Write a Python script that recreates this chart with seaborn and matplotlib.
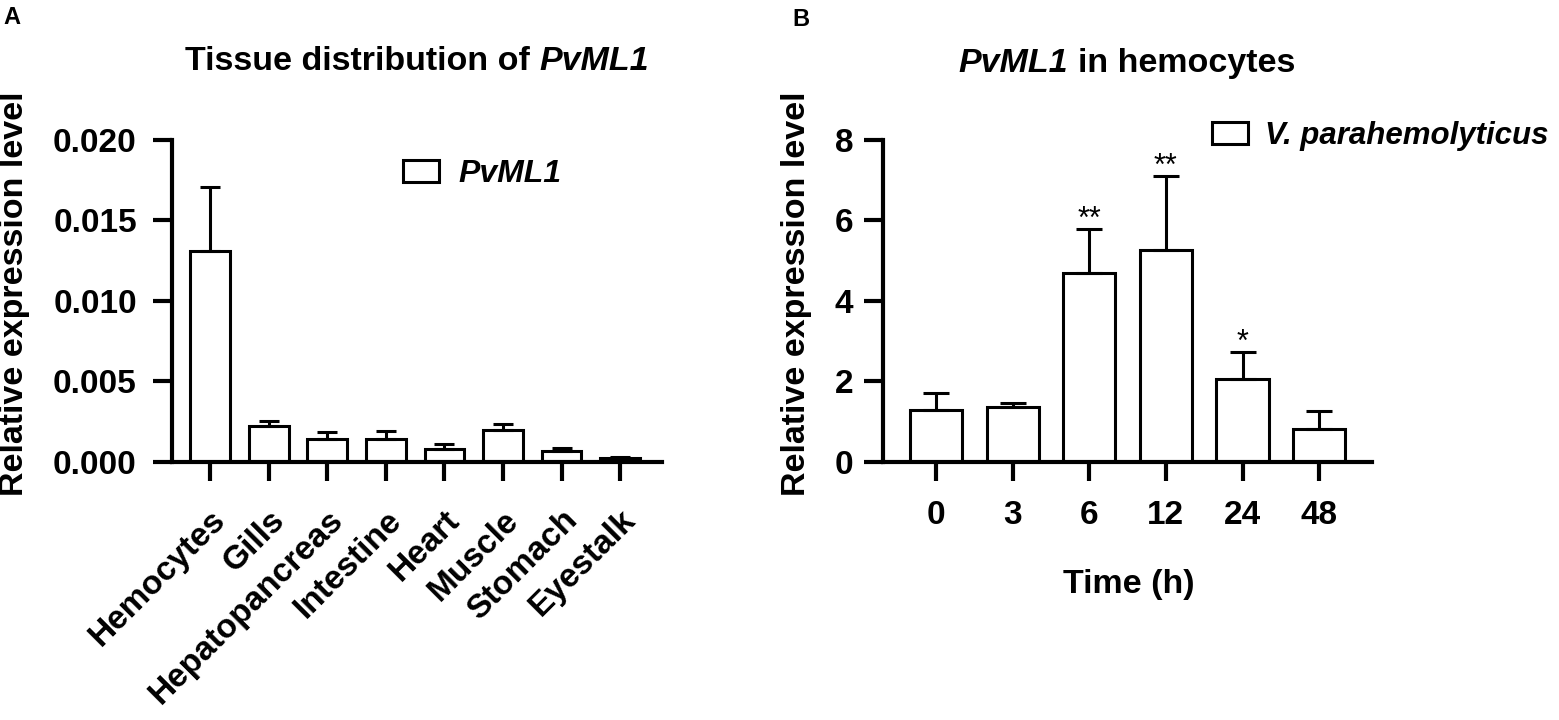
import numpy as np
import pandas as pd
import matplotlib
matplotlib.use("Agg")
import matplotlib.pyplot as plt
import seaborn as sns
from matplotlib.patches import Patch

# ---------------- data ----------------
tissues = ["Hemocytes", "Gills", "Hepatopancreas", "Intestine", "Heart", "Muscle", "Stomach", "Eyestalk"]
tissue_mean = [0.01307, 0.00222, 0.00140, 0.00138, 0.00077, 0.00196, 0.00066, 0.00021]
tissue_sd = [0.00401, 0.00031, 0.00043, 0.00053, 0.00030, 0.00039, 0.00019, 0.00006]
tissue_yticks = [0.000, 0.005, 0.010, 0.015, 0.020]

times = ["0", "3", "6", "12", "24", "48"]
time_mean = [1.27, 1.36, 4.70, 5.26, 2.06, 0.81]
time_sd = [0.43, 0.10, 1.08, 1.84, 0.66, 0.44]
time_sig = ["", "", "**", "**", "*", ""]
time_yticks = [0, 2, 4, 6, 8]

# ---------------- style ----------------
W, H = 1559, 720
sns.set_theme(style="ticks")
plt.rcParams["font.family"] = ["Liberation Sans", "DejaVu Sans"]
plt.rcParams["font.weight"] = "bold"
plt.rcParams["axes.linewidth"] = 3
for k in ("text.color", "axes.labelcolor", "xtick.color", "ytick.color", "axes.edgecolor"):
    plt.rcParams[k] = "black"

fig = plt.figure(figsize=(W / 100, H / 100), dpi=100)
fig.patch.set_facecolor("white")


def fx(x):
    return x / W


def fy(y):
    return 1 - y / H


TOP, BOT = 140, 461.5
axL = fig.add_axes([fx(171.5), fy(BOT), (661.7 - 171.5) / W, (BOT - TOP) / H])
axR = fig.add_axes([fx(882.5), fy(BOT), (1372 - 882.5) / W, (BOT - TOP) / H])

LW = 2.2
TICK_FS = 24
LAB_FS = 24.5


def draw(ax, cats, mean, sd, capsize):
    df = pd.DataFrame({"cat": cats, "val": mean})
    sns.barplot(data=df, x="cat", y="val", ax=ax, color="white", edgecolor="black",
                linewidth=LW, width=0.68, saturation=1, errorbar=None, order=cats)
    n = len(cats)
    ax.errorbar(np.arange(n), mean, yerr=[np.zeros(n), sd], fmt="none", ecolor="black",
                elinewidth=LW, capsize=capsize, capthick=LW, zorder=3)
    sns.despine(ax=ax)
    for s in ("left", "bottom"):
        ax.spines[s].set_linewidth(3)
        ax.spines[s].set_color("black")
    ax.tick_params(axis="both", width=3, length=14, labelsize=TICK_FS, colors="black")
    ax.set_xlabel("")
    ax.set_ylabel("")
    ax.set_facecolor("white")


# ---------- left panel ----------
draw(axL, tissues, tissue_mean, tissue_sd, 7.2)
axL.set_xlim(-0.66, 7.71)
axL.set_ylim(0, 0.020)
axL.set_yticks(tissue_yticks)
axL.set_yticklabels([f"{v:.3f}" for v in tissue_yticks], fontweight="bold")
axL.set_xticks(range(len(tissues)))
axL.set_xticklabels(tissues, rotation=45, ha="right", rotation_mode="anchor", fontweight="bold")
axL.tick_params(axis="y", pad=11)
axL.tick_params(axis="x", pad=17)

axL.legend(handles=[Patch(facecolor="white", edgecolor="black", linewidth=LW)],
           labels=["PvML1"], loc="upper left",
           bbox_to_anchor=(fx(403), fy(159)), bbox_transform=fig.transFigure,
           frameon=False, prop={"size": TICK_FS - 1, "weight": "bold", "style": "italic"},
           handlelength=1.13, handleheight=0.69, labelcolor="black",
           handletextpad=0.62, borderpad=0, borderaxespad=0)

# ---------- right panel ----------
draw(axR, times, time_mean, time_sd, 9.4)
axR.set_xlim(-0.70, 5.69)
axR.set_ylim(0, 8)
axR.set_yticks(time_yticks)
axR.set_yticklabels([str(v) for v in time_yticks], fontweight="bold")
axR.set_xticks(range(len(times)))
axR.set_xticklabels(times, fontweight="bold")
axR.tick_params(axis="y", pad=7)
axR.tick_params(axis="x", pad=14)

for i, s in enumerate(time_sig):
    if s:
        axR.annotate(s, xy=(i, time_mean[i] + time_sd[i]), xytext=(0, 1), textcoords="offset points",
                     ha="center", va="baseline", fontsize=22, fontweight="normal", color="black")

axR.legend(handles=[Patch(facecolor="white", edgecolor="black", linewidth=LW)],
           labels=["V. parahemolyticus"], loc="upper left",
           bbox_to_anchor=(fx(1212), fy(121)), bbox_transform=fig.transFigure,
           frameon=False, prop={"size": 22.5, "weight": "bold", "style": "italic"},
           handlelength=1.15, handleheight=0.7, labelcolor="black",
           handletextpad=0.55, borderpad=0, borderaxespad=0)

# ---------- titles with mixed italic ----------
renderer = fig.canvas.get_renderer()


def mixed_title(parts, xc, ybase, size):
    texts = []
    for txt, style in parts:
        t = fig.text(0, fy(ybase), txt, ha="left", va="baseline", fontsize=size,
                     fontweight="bold", style=style, color="black")
        texts.append(t)
    widths = [t.get_window_extent(renderer).width for t in texts]
    space = 0.278 * size * 100 / 72
    total = sum(widths) + space * (len(texts) - 1)
    x = xc - total / 2
    for t, w in zip(texts, widths):
        t.set_x(fx(x))
        x += w + space


mixed_title([("Tissue distribution of", "normal"), ("PvML1", "italic")], 416.6, 70, LAB_FS)
mixed_title([("PvML1", "italic"), ("in hemocytes", "normal")], 1127, 72, LAB_FS)

fig.text(fx(15), fy(294), "Relative expression level", rotation=90, ha="center", va="center",
         fontsize=LAB_FS, fontweight="bold", color="black")
fig.text(fx(797), fy(294), "Relative expression level", rotation=90, ha="center", va="center",
         fontsize=LAB_FS, fontweight="bold", color="black")
fig.text(fx(1129), fy(585), "Time (h)", ha="center", va="center", fontsize=LAB_FS,
         fontweight="bold", color="black")
fig.text(fx(12), fy(17), "A", ha="center", va="center", fontsize=17, fontweight="bold", color="black")
fig.text(fx(801), fy(19), "B", ha="center", va="center", fontsize=17, fontweight="bold", color="black")

fig.savefig("out.png", dpi=100, facecolor="white")
